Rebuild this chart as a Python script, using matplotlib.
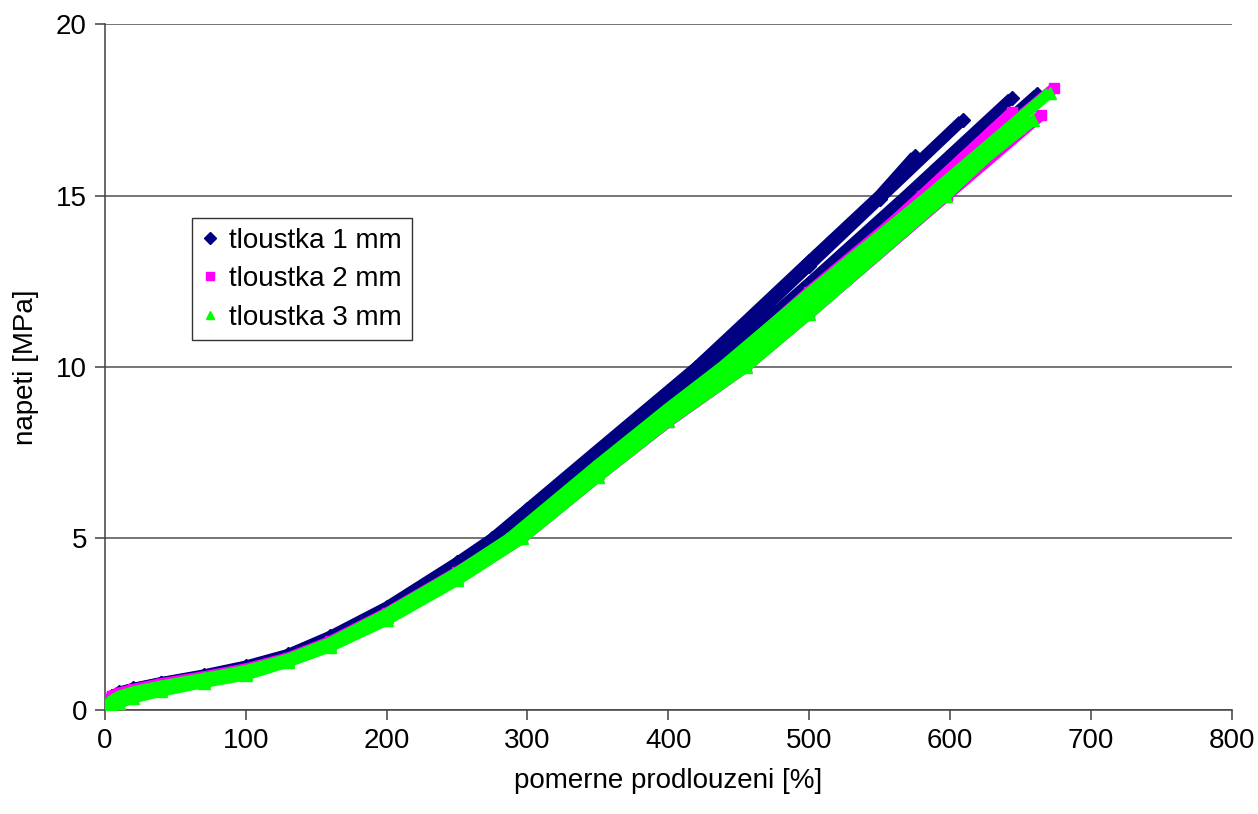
import matplotlib
matplotlib.use('Agg')
import matplotlib.pyplot as plt
from matplotlib.lines import Line2D

plt.rcParams['font.family'] = ['Liberation Sans', 'DejaVu Sans']

# tloustka 1 mm - four specimens
n1_x = [0, 2, 5, 10, 20, 40, 70, 100, 130, 160, 200, 250, 275, 300, 350, 400, 420, 450, 500, 550, 575]
n1_y = [0, 0.25, 0.4, 0.52, 0.63, 0.8, 1.02, 1.28, 1.62, 2.15, 3.0, 4.3, 5.0, 5.86, 7.59, 9.31, 10.0, 11.15, 13.08, 15.0, 16.15]
n2_x = [0, 2, 5, 10, 20, 40, 70, 100, 130, 160, 200, 250, 278, 300, 350, 400, 424, 450, 500, 550, 609]
n2_y = [0, 0.25, 0.4, 0.5, 0.62, 0.79, 1.0, 1.26, 1.6, 2.12, 2.96, 4.24, 5.0, 5.78, 7.5, 9.2, 10.0, 11.0, 12.95, 14.9, 17.2]
n3_x = [0, 2, 5, 10, 20, 40, 70, 100, 130, 160, 200, 250, 283, 350, 400, 432, 500, 569, 644]
n3_y = [0, 0.25, 0.4, 0.5, 0.6, 0.78, 0.98, 1.22, 1.55, 2.05, 2.9, 4.12, 5.0, 7.3, 8.95, 10.0, 12.45, 15.0, 17.85]
n4_x = [0, 2, 5, 10, 20, 40, 70, 100, 130, 160, 200, 250, 290, 350, 400, 441, 500, 586, 662]
n4_y = [0, 0.22, 0.35, 0.45, 0.57, 0.74, 0.95, 1.18, 1.5, 1.98, 2.8, 3.98, 5.0, 7.05, 8.7, 10.0, 12.15, 15.2, 17.95]

# tloustka 2 mm - three specimens
m1_x = [0, 2, 5, 10, 20, 40, 70, 100, 130, 160, 200, 250, 288, 350, 400, 440, 500, 585, 674]
m1_y = [0, 0.28, 0.42, 0.5, 0.6, 0.77, 0.97, 1.2, 1.52, 2.0, 2.83, 4.02, 5.0, 7.1, 8.75, 10.0, 12.2, 15.1, 18.13]
m2_x = [0, 2, 5, 10, 20, 40, 70, 100, 130, 160, 200, 250, 296, 350, 400, 455, 500, 598, 665]
m2_y = [0, 0.25, 0.38, 0.47, 0.57, 0.73, 0.93, 1.15, 1.44, 1.88, 2.68, 3.8, 5.0, 6.8, 8.4, 10.0, 11.55, 15.0, 17.35]
m3_x = [0, 2, 5, 10, 20, 40, 70, 100, 130, 160, 200, 250, 292, 350, 400, 446, 500, 580, 644]
m3_y = [0, 0.26, 0.4, 0.48, 0.58, 0.75, 0.95, 1.17, 1.48, 1.94, 2.76, 3.92, 5.0, 6.95, 8.6, 10.0, 12.0, 15.0, 17.43]

# tloustka 3 mm - three specimens
g1_x = [0, 3, 5, 10, 20, 40, 70, 100, 130, 160, 200, 250, 287, 350, 400, 438, 500, 585, 671]
g1_y = [0, 0.2, 0.28, 0.4, 0.53, 0.7, 0.92, 1.15, 1.48, 1.96, 2.8, 4.0, 5.0, 7.15, 8.8, 10.0, 12.15, 15.0, 18.0]
g2_x = [0, 3, 5, 10, 20, 40, 70, 100, 130, 160, 200, 250, 293, 350, 400, 448, 500, 592, 659]
g2_y = [0, 0.12, 0.2, 0.3, 0.44, 0.62, 0.85, 1.08, 1.42, 1.9, 2.7, 3.85, 5.0, 6.9, 8.55, 10.0, 11.85, 15.0, 17.2]
g3_x = [0, 3, 5, 10, 20, 40, 70, 100, 130, 160, 200, 250, 296, 350, 400, 455, 500, 597, 649]
g3_y = [0, 0.08, 0.12, 0.2, 0.35, 0.55, 0.8, 1.02, 1.4, 1.85, 2.62, 3.78, 5.0, 6.8, 8.42, 10.0, 11.55, 15.0, 17.0]

labels = ["tloustka 1 mm", "tloustka 2 mm", "tloustka 3 mm"]
colors = ["#000080", "#ff00ff", "#00ff00"]
markers = ["D", "s", "^"]
groups = [
    [(n1_x, n1_y), (n2_x, n2_y), (n3_x, n3_y), (n4_x, n4_y)],
    [(m1_x, m1_y), (m2_x, m2_y), (m3_x, m3_y)],
    [(g1_x, g1_y), (g2_x, g2_y), (g3_x, g3_y)],
]
msizes = [7.5, 7, 8.5]

fig = plt.figure(figsize=(12.58, 8.14), dpi=100)
ax = fig.add_axes([0.0835, 0.1278, 0.8955, 0.8427])

for grp, c, m, ms in zip(groups, colors, markers, msizes):
    for xs, ys in grp:
        ax.plot(xs, ys, color=c, lw=8, marker=m, ms=ms, mec=c,
                solid_capstyle='butt', solid_joinstyle='round', zorder=3)

ax.set_xlim(0, 800)
ax.set_ylim(0, 20)
ax.set_xticks(range(0, 801, 100))
ax.set_yticks(range(0, 21, 5))
ax.grid(axis='y', color='#505050', lw=1.1)
ax.set_axisbelow(True)
for s in ['top', 'right']:
    ax.spines[s].set_visible(False)
for s in ['left', 'bottom']:
    ax.spines[s].set_color('#404040')
    ax.spines[s].set_linewidth(1.1)
ax.tick_params(direction='out', length=7, width=1.1, color='#404040', labelsize=20, pad=6)
ax.set_xlabel("pomerne prodlouzeni [%]", fontsize=20, labelpad=10)
ax.set_ylabel("napeti [MPa]", fontsize=20, labelpad=12)

handles = [Line2D([], [], ls='none', marker=m, color=c, ms=6) for c, m in zip(colors, markers)]
leg = fig.legend(handles, labels, loc='upper left', bbox_to_anchor=(0.1526, 0.7322),
                 fontsize=20, frameon=True, fancybox=False, edgecolor='black',
                 handlelength=0.6, handletextpad=0.4, labelspacing=0.45, borderpad=0.35,
                 borderaxespad=0)
leg.get_frame().set_linewidth(1.0)

fig.savefig("out.png", dpi=100)
